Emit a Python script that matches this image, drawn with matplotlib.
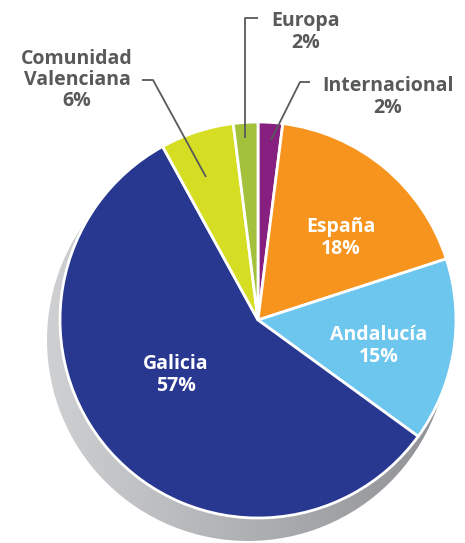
import numpy as np
import matplotlib.pyplot as plt
from matplotlib.patches import Circle
from matplotlib.colors import LinearSegmentedColormap

plt.rcParams['font.family'] = ['Open Sans', 'DejaVu Sans']

# datos (sentido horario desde arriba)
labels = ['Internacional', 'España', 'Andalucía', 'Galicia', 'Comunidad\nValenciana', 'Europa']
values = [2, 18, 15, 57, 6, 2]
colors = ['#871f80', '#f7941d', '#6dc6ee', '#283891', '#d6de23', '#a3c13a']

W, H = 465, 543
fig = plt.figure(figsize=(W / 100, H / 100), dpi=100)
ax = fig.add_axes([0, 0, 1, 1])

def yy(y):
    # coordenada de imagen -> coordenada de datos
    return H - y

cx, cy, r = 258, 320, 198

# sombra con degradado
sh = Circle((cx - 10, yy(cy + 20)), 201, transform=ax.transData, facecolor='none', edgecolor='none')
ax.add_patch(sh)
grad = np.linspace(0, 1, 256).reshape(1, -1)
cmap = LinearSegmentedColormap.from_list('g', ['#cfd0d2', '#8f9094'])
im = ax.imshow(grad, cmap=cmap, extent=(cx - 211, cx + 191, yy(cy + 222), yy(cy - 182)),
               aspect='auto', zorder=1)
im.set_clip_path(sh)

wedges, _ = ax.pie(values, colors=colors, startangle=90, counterclock=False,
                   center=(cx, yy(cy)), radius=r,
                   wedgeprops=dict(edgecolor='white', linewidth=2.0))
for w in wedges:
    w.set_zorder(2)

fs = 14
# etiquetas internas
inner = [('España\n18%', 341, 238), ('Andalucía\n15%', 379, 346), ('Galicia\n57%', 176, 375)]
for txt, x, y in inner:
    ax.text(x, yy(y), txt, color='white', fontsize=fs, fontweight='bold',
            ha='center', va='center', linespacing=1.1, zorder=5)

# etiquetas externas
gray = '#58595b'
outer = [('Europa\n2%', 306, 32), ('Comunidad\nValenciana\n6%', 77, 80), ('Internacional\n2%', 388, 97)]
for txt, x, y in outer:
    ax.text(x, yy(y), txt, color=gray, fontsize=fs, fontweight='bold',
            ha='center', va='center', linespacing=1.1, zorder=5)

# lineas guia
leaders = [
    [(245, 138), (245, 18), (258, 18)],
    [(142, 80), (153, 80), (206, 177)],
    [(310, 82), (300, 82), (271, 140)],
]
for pts in leaders:
    xs = [p[0] for p in pts]
    ys = [yy(p[1]) for p in pts]
    ax.plot(xs, ys, color=gray, lw=1.3, zorder=4, solid_capstyle='butt')

ax.set_xlim(0, W)
ax.set_ylim(0, H)
ax.set_aspect('auto')
ax.axis('off')
fig.savefig('out.png', dpi=100)
